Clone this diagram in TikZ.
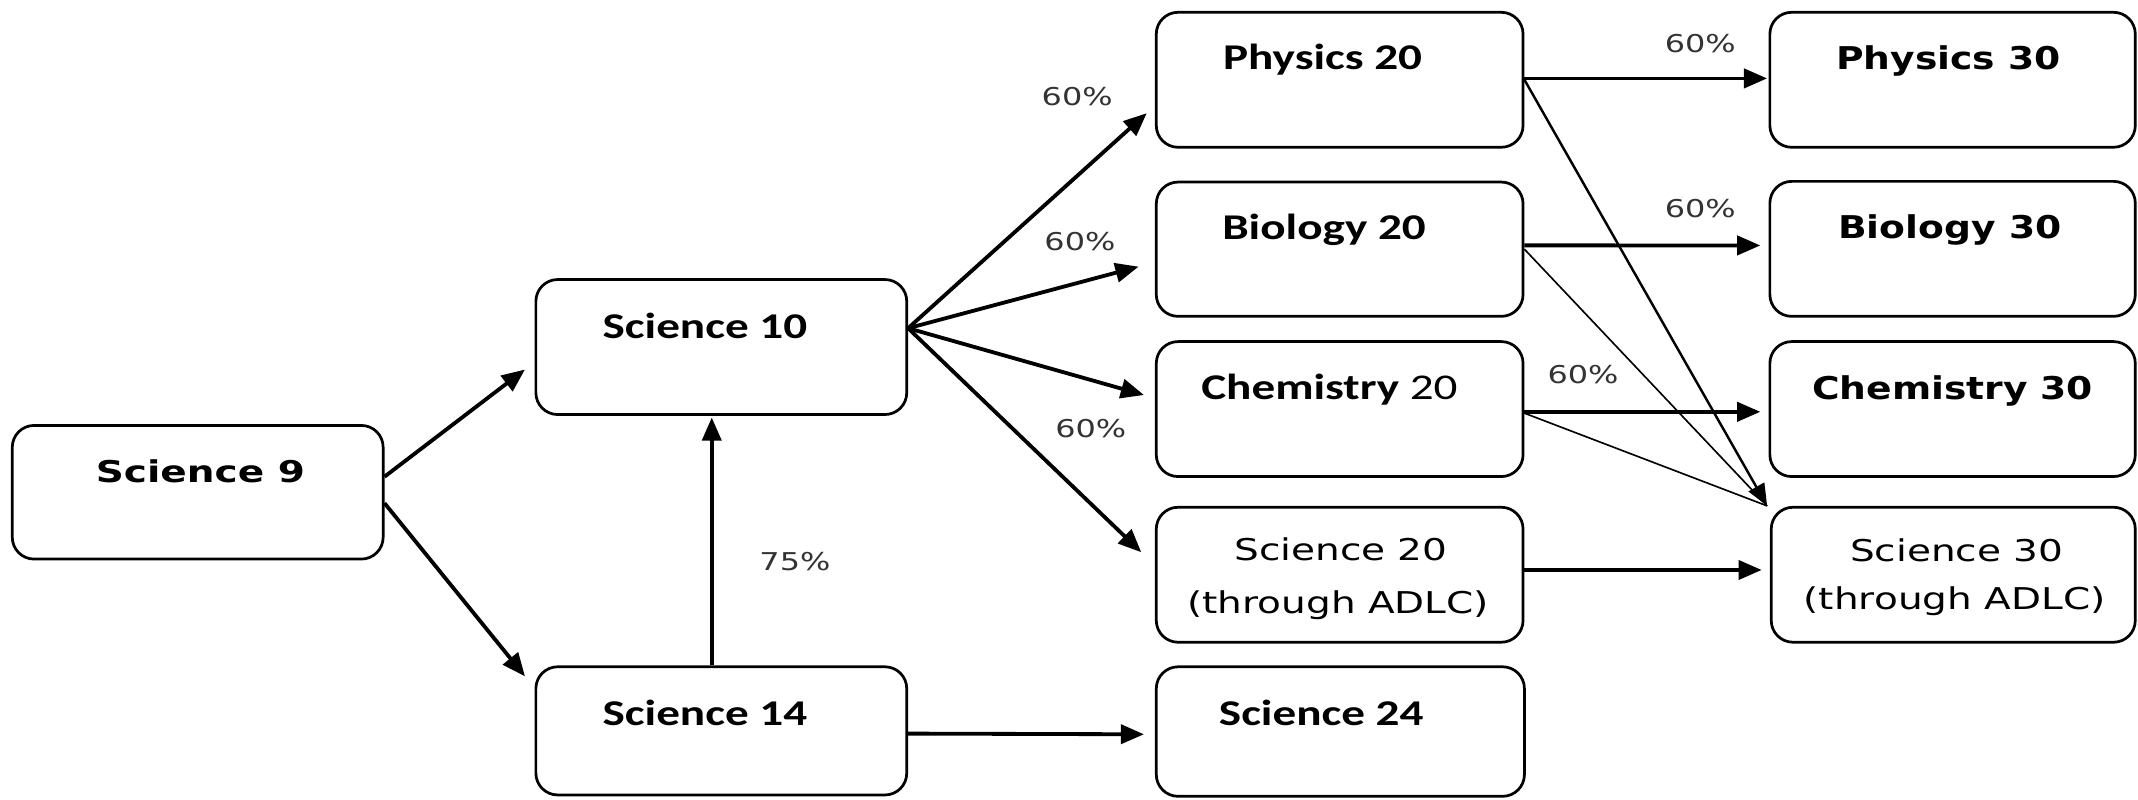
\documentclass[tikz,border=0pt]{standalone}
\usepackage{fontspec}
\usetikzlibrary{arrows.meta}
\newfontfamily\calfont{Carlito}[FakeStretch=1.3]
\newfontfamily\dvwide{DejaVu Sans}[FakeStretch=1.3]
\newfontfamily\dvmid{DejaVu Sans}[FakeStretch=1.2]
\tikzset{
  rbox/.style={draw=black, line width=1pt, rounded corners=8pt, inner sep=0pt, fill=white},
  ttl/.style={anchor=base, inner sep=0pt, text=black},
  calb/.style={ttl, font=\calfont\fontsize{13.3}{16}\selectfont\bfseries},
  dvb/.style={ttl, font=\dvwide\fontsize{11}{13}\selectfont\bfseries},
  dvbm/.style={ttl, font=\dvmid\fontsize{11.5}{14}\selectfont\bfseries},
  dvr/.style={ttl, font=\dvwide\fontsize{11}{13}\selectfont},
  pct/.style={inner sep=0pt, text=black!80, font=\dvwide\fontsize{9}{11}\selectfont},
  arr/.style={line width=1.4pt, -{Triangle[length=8.5pt,width=7pt]}},
  midarr/.style={line width=0.9pt, -{Triangle[length=8pt,width=6.5pt]}},
  thinline/.style={line width=0.6pt}
}
\begin{document}
\begin{tikzpicture}[x=0.5pt,y=-0.5pt]
\fill[white] (0,0) rectangle (1568,586);
\useasboundingbox (0,0) rectangle (1568,586);
% boxes
\node[rbox, minimum width=136pt, minimum height=49pt] (s9) at (145,361) {};
\node[rbox, minimum width=136pt, minimum height=49.5pt] (s10) at (529,254.5) {};
\node[rbox, minimum width=136pt, minimum height=47pt] (s14) at (529,536) {};
\node[rbox, minimum width=134.5pt, minimum height=49.5pt] (p20) at (982.5,58.5) {};
\node[rbox, minimum width=134.5pt, minimum height=49.25pt] (b20) at (982.5,182.75) {};
\node[rbox, minimum width=134.5pt, minimum height=49.5pt] (c20) at (982.5,300) {};
\node[rbox, minimum width=134.5pt, minimum height=49.5pt] (s20) at (982.5,421.5) {};
\node[rbox, minimum width=135pt, minimum height=47.5pt] (s24) at (983,536.5) {};
\node[rbox, minimum width=134pt, minimum height=49.5pt] (p30) at (1432,58.5) {};
\node[rbox, minimum width=134pt, minimum height=49.5pt] (b30) at (1432,182.5) {};
\node[rbox, minimum width=134pt, minimum height=49.5pt] (c30) at (1432,300) {};
\node[rbox, minimum width=133.5pt, minimum height=49.5pt] (s30) at (1432.5,421.5) {};
% texts
\node[dvb] (s9t) at (147,354) {Science 9};
\node[calb] (s10t) at (517,248) {Science 10};
\node[calb] (s14t) at (517,531.7) {Science 14};
\node[calb] (p20t) at (970,51) {Physics 20};
\node[calb] (b20t) at (971,175.5) {Biology 20};
\node[calb] (c20t) at (975,293) {Chemistry {\mdseries 20}};
\node[dvr] (s20ta) at (983.5,410.7) {Science 20};
\node[dvr] (s20tb) at (981.5,449.8) {(through ADLC)};
\node[calb] (s24t) at (969,531.7) {Science 24};
\node[dvbm] (p30t) at (1429,51.3) {Physics 30};
\node[dvbm] (b30t) at (1430,175) {Biology 30};
\node[dvbm] (c30t) at (1432,293) {Chemistry 30};
\node[dvr] (s30ta) at (1435,412) {Science 30};
\node[dvr] (s30tb) at (1433.5,447) {(through ADLC)};
% percentages
\node[pct] (l1) at (790,71) {60\%};
\node[pct] (l2) at (792,177) {60\%};
\node[pct] (l3) at (800,314) {60\%};
\node[pct] (l4) at (1247,32) {60\%};
\node[pct] (l5) at (1247,153) {60\%};
\node[pct] (l6) at (1161,275) {60\%};
\node[pct] (l7) at (583,412) {75\%};
% connectors
\draw[arr] ([yshift=5.7pt]s9.east) -- ([xshift=-3.5pt,yshift=-8.25pt]s10.west);
\draw[arr] ([yshift=-4pt]s9.east) -- ([xshift=-3.5pt,yshift=-4pt]s14.north west);
\draw[arr] ([xshift=-3.5pt]s14.north) -- ([xshift=-3.5pt,yshift=-0.6pt]s10.south);
\draw[arr] ([yshift=-1pt]s14.east) -- ([xshift=-4pt,yshift=-1pt]s24.west);
\draw[arr] ([yshift=6.9pt]s10.east) -- ([xshift=-3pt,yshift=-12.25pt]p20.west);
\draw[arr] ([yshift=6.9pt]s10.east) -- ([xshift=-6pt,yshift=-6.4pt]b20.west);
\draw[arr] ([yshift=6.9pt]s10.east) -- ([xshift=-4pt,yshift=5.15pt]c20.west);
\draw[arr] ([yshift=6.9pt]s10.east) -- ([xshift=-5pt,yshift=8.25pt]s20.west);
\draw[arr] ([yshift=0.5pt]p20.east) -- ([xshift=-0.5pt,yshift=0.5pt]p30.west);
\draw[arr] ([yshift=1.4pt]b20.east) -- ([xshift=-3pt,yshift=1.25pt]b30.west);
\draw[arr] ([yshift=-1pt]c20.east) -- ([xshift=-3pt,yshift=-1pt]c30.west);
\draw[arr] ([yshift=1.75pt]s20.east) -- ([xshift=-3pt,yshift=1.75pt]s30.west);
\draw[thinline] (b20.east) -- ([xshift=-1pt]s30.north west);
\draw[thinline] ([yshift=-1.5pt]c20.east) -- ([xshift=-1pt]s30.north west);
\draw[midarr] (p20.east) -- ([xshift=-1pt]s30.north west);
\end{tikzpicture}
\end{document}
